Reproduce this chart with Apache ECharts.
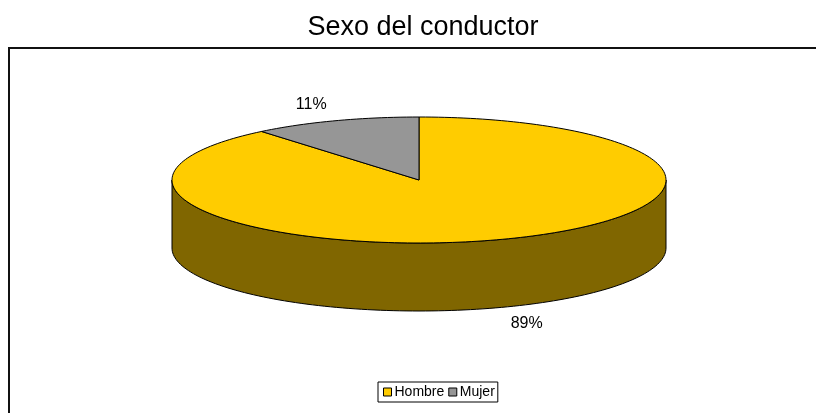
<!DOCTYPE html>
<html><head><meta charset="utf-8">
<script src="https://cdn.jsdelivr.net/npm/echarts@6/dist/echarts.min.js"></script>
<style>html,body{margin:0;padding:0;background:#fff}#chart{width:816px;height:413px}</style>
</head><body><div id="chart"></div>
<script>
// Data
const categories = ['Hombre', 'Mujer'];
const values = [89, 11];
const topColors = ['#FFCC00', '#969696'];
const sideColors = ['#806600', '#4B4B4B'];

const total = values.reduce((a, b) => a + b, 0);
const starts = [];
let acc = 0;
values.forEach(v => { starts.push(acc / total * 360); acc += v; });

// Disc geometry (angles clockwise from 12 o'clock)
const CX = 419, CY = 180, RX = 247, RY = 63, DEPTH = 68;
const LRX = 318, LRY = 80;
const FONT = '"Liberation Sans", Arial, sans-serif';

function pt(deg, dy, rx, ry) {
  const r = deg * Math.PI / 180;
  return [CX + rx * Math.sin(r), CY - ry * Math.cos(r) + dy];
}
function arc(a, b, dy) {
  const n = Math.max(2, Math.ceil(Math.abs(b - a) / 1.5));
  const p = [];
  for (let i = 0; i <= n; i++) p.push(pt(a + (b - a) * i / n, dy, RX, RY));
  return p;
}

function renderSlice(params, api) {
  const i = params.seriesIndex;
  const v = api.value(0);
  const a0 = starts[i];
  const a1 = a0 + v / total * 360;
  const children = [];
  // front wall of the disc
  const s = Math.max(a0, 90), e = Math.min(a1, 270);
  if (e > s) {
    const pts = arc(s, e, 0).concat(arc(e, s, DEPTH));
    children.push({
      type: 'polygon', shape: { points: pts },
      style: { fill: sideColors[i], stroke: '#000', lineWidth: 1 }
    });
  }
  // top face
  children.push({
    type: 'polygon', shape: { points: [[CX, CY]].concat(arc(a0, a1, 0)) },
    style: { fill: topColors[i], stroke: '#000', lineWidth: 1 }
  });
  // percentage label
  const mid = (a0 + a1) / 2;
  const front = mid > 90 && mid < 270;
  const lp = pt(mid, front ? DEPTH : 0, LRX, LRY);
  children.push({
    type: 'text',
    style: {
      text: Math.round(v / total * 100) + '%',
      x: lp[0], y: lp[1], align: 'center', verticalAlign: 'middle',
      font: '16px ' + FONT, fill: '#000'
    }
  });
  return { type: 'group', children };
}

const chart = echarts.init(document.getElementById('chart'), null, { renderer: 'canvas' });
chart.setOption({
  animation: false,
  backgroundColor: '#fff',
  graphic: [
    {
      type: 'rect', shape: { x: 9, y: 48, width: 900, height: 500 },
      style: { fill: 'none', stroke: '#111', lineWidth: 2 }, z: 0
    },
    {
      type: 'text',
      style: {
        text: 'Sexo del conductor', x: 423, y: 28, align: 'center', verticalAlign: 'middle',
        font: '27px ' + FONT, fill: '#000'
      }
    }
  ],
  legend: {
    data: categories,
    left: 378, top: 382,
    orient: 'horizontal',
    icon: 'rect',
    itemWidth: 8, itemHeight: 8, itemGap: 4,
    padding: [3, 3, 3, 5],
    borderColor: '#000', borderWidth: 1,
    itemStyle: { borderColor: '#000', borderWidth: 1 },
    textStyle: { fontFamily: FONT, fontSize: 14, color: '#000', padding: [0, 0, 0, -2] }
  },
  series: categories.map((name, i) => ({
    type: 'custom',
    name: name,
    coordinateSystem: 'none',
    itemStyle: { color: topColors[i] },
    renderItem: renderSlice,
    data: [[values[i]]],
    silent: true
  }))
});
</script>
</body></html>
